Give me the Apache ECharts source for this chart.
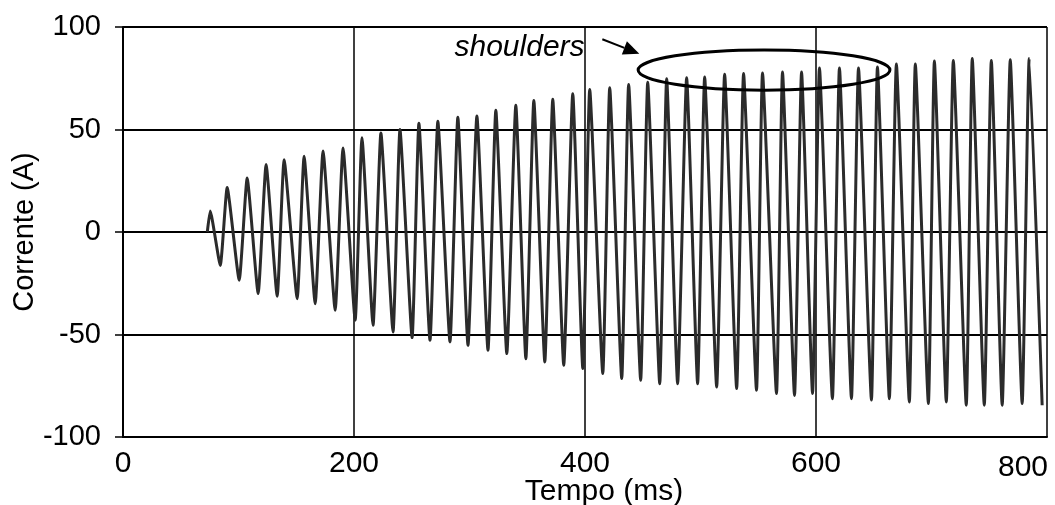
<!DOCTYPE html>
<html><head><meta charset="utf-8">
<script src="https://cdn.jsdelivr.net/npm/echarts@6/dist/echarts.min.js"></script>
<style>html,body{margin:0;padding:0;background:#fff}#c{width:1055px;height:505px}</style>
</head><body><div id="c"></div>
<script>
// Waveform: time (ms) and value (A) of every positive peak and negative trough
const startPoint = [73, 0];
const peakTimes = [75.5, 90.2, 107.5, 123.9, 139.5, 156.8, 173.2, 190.5, 206.9, 223.3,
  239.8, 256.2, 272.6, 289.9, 306.4, 322.8, 340.1, 355.7, 372.1, 389.4,
  404.1, 421.4, 437.8, 454.3, 470.7, 488.0, 503.6, 520.9, 537.3, 553.7,
  571.0, 587.5, 603.0, 620.3, 636.8, 653.2, 669.6, 686.0, 702.5, 718.9,
  735.3, 751.8, 768.2, 784.6];
const peakValues = [10.2, 21.7, 26.3, 32.9, 35.3, 36.9, 39.5, 41, 46, 48.3,
  50, 53, 54, 56, 56.6, 59.4, 61.8, 64.2, 64.7, 67.5,
  69.5, 70.4, 72, 73, 74.8, 75.3, 75.6, 77, 77.3, 77.6,
  78, 78, 80, 80, 80, 80.5, 82, 82, 83.4, 83.7,
  84.6, 83.7, 84, 84.6];
const troughTimes = [84.2, 100.6, 117.0, 133.5, 150.8, 166.4, 183.7, 201.0, 216.5, 233.8,
  250.3, 265.8, 283.1, 298.7, 316.0, 332.3, 348.8, 365.2, 381.6, 398.1,
  415.4, 431.8, 448.2, 464.7, 480.2, 497.5, 514.0, 531.3, 548.5, 565.8,
  581.4, 597.0, 614.2, 630.7, 648.0, 663.5, 680.8, 697.3, 712.8, 730.1,
  745.7, 761.2, 778.5, 795.8];
const troughValues = [-16.3, -23.5, -30, -31.4, -32.5, -35, -38.2, -43, -45.5, -48.8,
  -51.5, -52.8, -53.6, -55.3, -57.7, -59.3, -61.8, -63.4, -65, -66.6,
  -69, -71.5, -72.3, -74, -74, -74, -75.6, -76.4, -77.2, -78.8,
  -79.7, -78.8, -81.3, -81.3, -82, -81.3, -82.9, -83.7, -82.9, -84.5,
  -84.5, -84.5, -83.7, -84.5];

// Annotation (data units)
const annotText = 'shoulders';
const annotTextAt = [287, 90];
const annotArrowFrom = [415, 94];
const annotArrowTo = [447, 87];
const annotEllipse = {cx: 555, cy: 79, rx: 109, ry: 9.8};

const FONT = 'Liberation Sans, Arial, Helvetica, sans-serif';

const waveData = [startPoint];
for (let i = 0; i < peakTimes.length; i++) {
  waveData.push([peakTimes[i], peakValues[i]]);
  waveData.push([troughTimes[i], troughValues[i]]);
}

const chart = echarts.init(document.getElementById('c'), null, {renderer: 'canvas'});
const option = {
  animation: false,
  backgroundColor: '#fff',
  textStyle: {fontFamily: FONT, color: '#000'},
  grid: {left: 123, right: 8, top: 27, bottom: 68, containLabel: false, outerBoundsMode: 'none'},
  xAxis: {
    type: 'value', min: 0, max: 800, interval: 200,
    name: 'Tempo (ms)', nameLocation: 'middle', nameGap: 40, nameMoveOverlap: false,
    nameTextStyle: {fontSize: 30, fontFamily: FONT, color: '#000', padding: [0, 0, 0, 38]},
    axisLine: {show: true, onZero: false, lineStyle: {color: '#000', width: 2}},
    axisTick: {show: false},
    splitLine: {show: true, lineStyle: {color: '#000', width: 1.5}},
    axisLabel: {
      fontSize: 30, fontFamily: FONT, color: '#000', margin: 12,
      formatter: v => v === 800 ? '{l|800}' : String(v),
      rich: {l: {fontSize: 30, fontFamily: FONT, color: '#000', padding: [4, 48, 0, 0]}}
    }
  },
  yAxis: {
    type: 'value', min: -100, max: 100, interval: 50,
    name: 'Corrente (A)', nameLocation: 'middle', nameGap: 84, nameMoveOverlap: false,
    nameTextStyle: {fontSize: 29, fontFamily: FONT, color: '#000'},
    axisLine: {show: true, onZero: false, lineStyle: {color: '#000', width: 2}},
    axisTick: {show: true, inside: false, length: 8, lineStyle: {color: '#000', width: 1.5}},
    splitLine: {show: true, lineStyle: {color: '#000', width: 2}},
    axisLabel: {fontSize: 29, fontFamily: FONT, color: '#000', margin: 22}
  },
  series: [{
    type: 'line', data: waveData, showSymbol: false, smooth: 0.15,
    lineStyle: {color: '#2b2b2b', width: 3}, z: 1
  }]
};
chart.setOption(option);

const px = (p) => chart.convertToPixel({gridIndex: 0}, p);
const c = px([annotEllipse.cx, annotEllipse.cy]);
const e = px([annotEllipse.cx + annotEllipse.rx, annotEllipse.cy + annotEllipse.ry]);
const a0 = px(annotArrowFrom), a1 = px(annotArrowTo);
const dx = a1[0] - a0[0], dy = a1[1] - a0[1], L = Math.hypot(dx, dy);
const ux = dx / L, uy = dy / L, hl = 16, hw = 7;
const base = [a1[0] - ux * hl, a1[1] - uy * hl];
const tp = px(annotTextAt);
chart.setOption({
  graphic: [
    {type: 'ellipse', shape: {cx: c[0], cy: c[1], rx: Math.abs(e[0] - c[0]), ry: Math.abs(e[1] - c[1])},
     style: {fill: 'none', stroke: '#000', lineWidth: 3}, z: 100},
    {type: 'line', shape: {x1: a0[0], y1: a0[1], x2: base[0], y2: base[1]},
     style: {stroke: '#000', lineWidth: 2}, z: 100},
    {type: 'polygon', shape: {points: [a1, [base[0] - uy * hw, base[1] + ux * hw], [base[0] + uy * hw, base[1] - ux * hw]]},
     style: {fill: '#000'}, z: 100},
    {type: 'text', x: tp[0], y: tp[1],
     style: {text: annotText, font: 'italic 30px ' + FONT, fill: '#000', textAlign: 'left', textVerticalAlign: 'middle', verticalAlign: 'middle'}, z: 100}
  ]
});
</script></body></html>
